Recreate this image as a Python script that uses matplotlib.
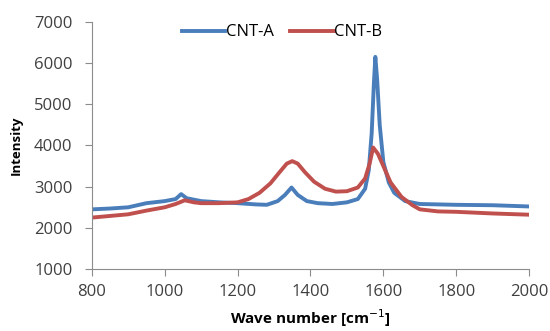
import matplotlib
matplotlib.use("Agg")
import matplotlib.pyplot as plt

# CNT-A (blue)
wn_a = [800, 850, 900, 950, 1000, 1030, 1045, 1060, 1100, 1150, 1200, 1250, 1280,
        1310, 1330, 1348, 1365, 1390, 1420, 1460, 1500, 1530, 1550, 1560, 1568,
        1574, 1578, 1583, 1590, 1600, 1615, 1630, 1660, 1700, 1800, 1900, 2000]
int_a = [2450, 2470, 2500, 2600, 2650, 2700, 2820, 2720, 2650, 2620, 2600, 2570, 2560,
         2650, 2800, 2980, 2800, 2650, 2600, 2580, 2620, 2700, 2950, 3400, 4300,
         5500, 6150, 5600, 4500, 3600, 3100, 2850, 2650, 2580, 2560, 2550, 2520]

# CNT-B (red)
wn_b = [800, 850, 900, 950, 1000, 1030, 1055, 1080, 1100, 1150, 1200, 1230, 1260,
        1290, 1315, 1335, 1350, 1365, 1385, 1410, 1440, 1470, 1500, 1530, 1550,
        1562, 1572, 1585, 1600, 1620, 1650, 1680, 1700, 1750, 1800, 1900, 2000]
int_b = [2250, 2290, 2330, 2420, 2500, 2580, 2670, 2620, 2600, 2600, 2620, 2700, 2850,
         3080, 3350, 3560, 3620, 3560, 3350, 3120, 2950, 2880, 2890, 2980, 3200,
         3550, 3950, 3800, 3500, 3100, 2750, 2550, 2450, 2400, 2390, 2350, 2320]

plt.rcParams['font.family'] = ['Open Sans', 'DejaVu Sans']

fig = plt.figure(figsize=(5.5, 3.31), dpi=100)
ax = fig.add_axes([0.167, 0.187, 0.795, 0.747])

ax.plot(wn_a, int_a, color='#4a7ebb', lw=2.8, label='CNT-A')
ax.plot(wn_b, int_b, color='#c0504d', lw=2.8, label='CNT-B')

ax.set_xlim(800, 2000)
ax.set_ylim(1000, 7000)
ax.set_xticks(range(800, 2001, 200))
ax.set_yticks(range(1000, 7001, 1000))

for s in ['top', 'right']:
    ax.spines[s].set_visible(False)
for s in ['left', 'bottom']:
    ax.spines[s].set_color('#8c8c8c')
ax.tick_params(colors='#8c8c8c', labelcolor='#404040', labelsize=12, length=5)
ax.tick_params(axis='x', pad=6)
ax.tick_params(axis='y', pad=9)

ax.set_xlabel('Wave number [cm$^{-1}$]', fontsize=11, fontweight='bold', labelpad=5)
ax.set_ylabel('Intensity', fontsize=9.5, fontweight='bold', labelpad=8)

ax.legend(loc='upper center', bbox_to_anchor=(0.435, 1.05), ncol=2, frameon=False,
          fontsize=12, handlelength=2.6, handletextpad=0.05, columnspacing=1.0)

fig.savefig('out.png', dpi=100)
